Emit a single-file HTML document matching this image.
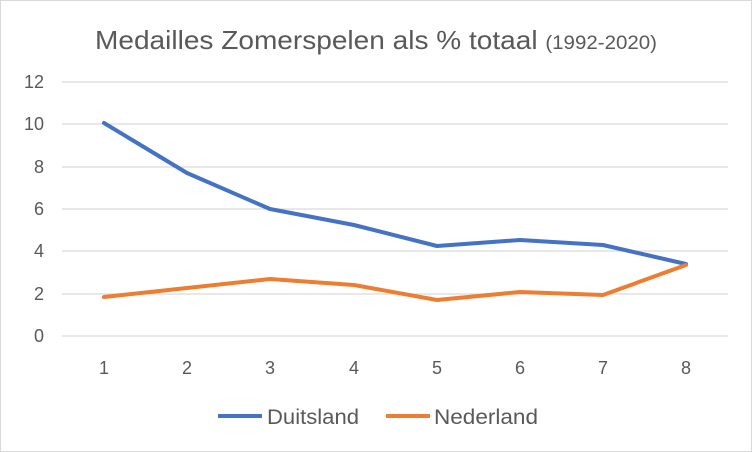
<!DOCTYPE html>
<html><head><style>body{margin:0;background:#fff}svg{display:block}</style></head><body>
<svg width="752" height="452" viewBox="0 0 752 452" font-family="Liberation Sans, sans-serif">
<rect x="0.5" y="0.5" width="751" height="451" fill="#fff" stroke="#d9d9d9"/>
<text x="376" y="49" text-anchor="middle" font-size="26" fill="#595959" textLength="562" lengthAdjust="spacingAndGlyphs">Medailles Zomerspelen als % totaal <tspan font-size="19">(1992-2020)</tspan></text>
<g stroke="#d9d9d9" stroke-width="1.3">
<line x1="62" x2="728" y1="82" y2="82"/><line x1="62" x2="728" y1="124" y2="124"/><line x1="62" x2="728" y1="167" y2="167"/><line x1="62" x2="728" y1="209" y2="209"/><line x1="62" x2="728" y1="251" y2="251"/><line x1="62" x2="728" y1="294" y2="294"/><line x1="62" x2="728" y1="336" y2="336"/>
</g>
<g font-size="18" fill="#595959" text-anchor="end">
<text x="44" y="88">12</text><text x="44" y="130">10</text><text x="44" y="173">8</text><text x="44" y="215">6</text><text x="44" y="257">4</text><text x="44" y="300">2</text><text x="44" y="342">0</text>
</g>
<g font-size="18" fill="#595959" text-anchor="middle">
<text x="104" y="374">1</text><text x="187" y="374">2</text><text x="270" y="374">3</text><text x="354" y="374">4</text><text x="437" y="374">5</text><text x="520" y="374">6</text><text x="603" y="374">7</text><text x="686" y="374">8</text>
</g>
<polyline fill="none" stroke="#4472c4" stroke-width="4" stroke-linejoin="round" stroke-linecap="round" points="104,123 187,173 270,209 354,225 437,246 520,240 603,245 686,264"/>
<polyline fill="none" stroke="#ed7d31" stroke-width="4" stroke-linejoin="round" stroke-linecap="round" points="104,297 187,288 270,279 354,285 437,300 520,292 603,295 686,265"/>
<line x1="218" x2="262" y1="416" y2="416" stroke="#4472c4" stroke-width="4"/>
<text x="267" y="424" font-size="21" fill="#595959" textLength="92" lengthAdjust="spacingAndGlyphs">Duitsland</text>
<line x1="386" x2="430" y1="416" y2="416" stroke="#ed7d31" stroke-width="4"/>
<text x="434" y="424" font-size="21" fill="#595959" textLength="104" lengthAdjust="spacingAndGlyphs">Nederland</text>
</svg>
</body></html>
